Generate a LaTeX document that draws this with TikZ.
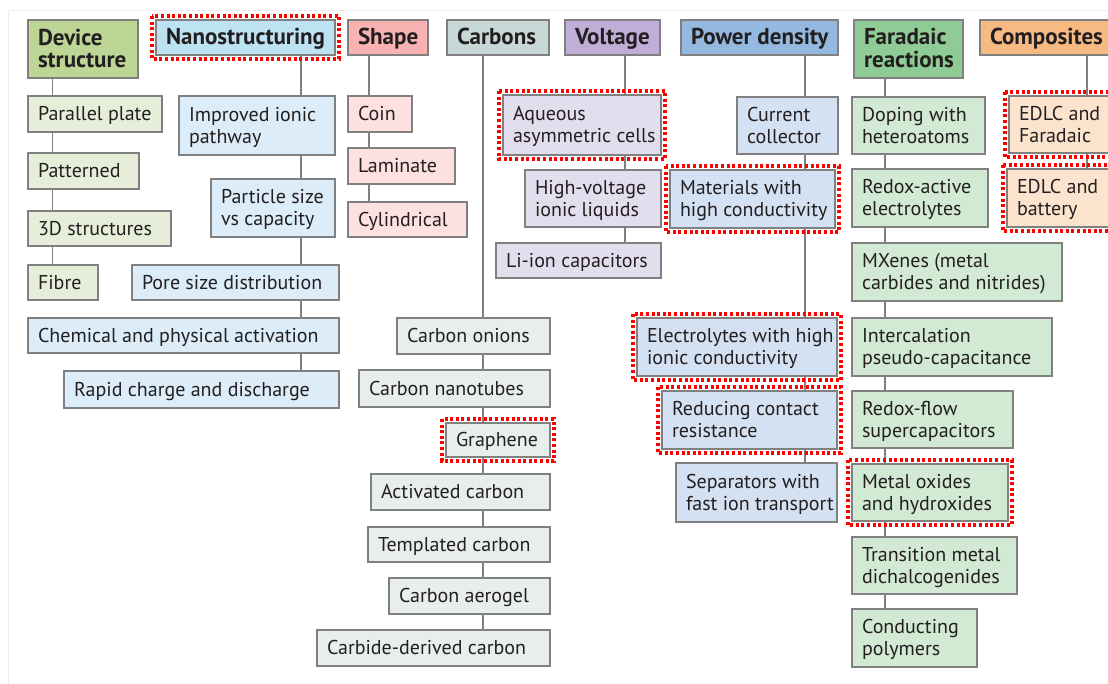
\documentclass[tikz,border=0pt]{standalone}
\usepackage{fontspec}
\setmainfont{PT Sans}
\definecolor{bord}{RGB}{128,128,128}
\definecolor{txt}{RGB}{35,31,32}
\definecolor{devD}{RGB}{189,214,150}\definecolor{devL}{RGB}{230,238,217}
\definecolor{nanoD}{RGB}{189,227,243}\definecolor{nanoL}{RGB}{220,237,249}
\definecolor{shapeD}{RGB}{248,178,177}\definecolor{shapeL}{RGB}{252,225,224}
\definecolor{carbD}{RGB}{199,216,214}\definecolor{carbL}{RGB}{232,238,237}
\definecolor{voltD}{RGB}{192,173,216}\definecolor{voltL}{RGB}{227,222,238}
\definecolor{powD}{RGB}{148,185,225}\definecolor{powL}{RGB}{212,225,242}
\definecolor{farD}{RGB}{143,203,148}\definecolor{farL}{RGB}{210,234,212}
\definecolor{compD}{RGB}{246,186,130}\definecolor{compL}{RGB}{251,227,206}
\definecolor{hlred}{RGB}{255,0,0}
\tikzset{
  box/.style={draw=bord, line width=1.2pt, inner xsep=10pt, inner ysep=1pt, outer sep=0pt,
    anchor=north west, text=txt, font=\fontsize{20}{21.8}\selectfont},
  head/.style={box, font=\fontsize{23}{21.8}\selectfont\bfseries},
  conn/.style={draw=bord, line width=1.2pt},
  hl/.style={draw=hlred, line width=3.2pt, dash pattern=on 3pt off 2.6pt},
  frameline/.style={draw=black!7, line width=0.8pt}
}
% name, x1, y1, x2, y2, style, text
\newcommand\bx[7]{%
  \pgfmathsetmacro\bxw{#4-#2}\pgfmathsetmacro\bxh{#5-#3}\pgfmathsetmacro\bxt{#4-#2-20}%
  \node[#6, minimum width=\bxw pt, minimum height=\bxh pt] (#1) at (#2,#3)
    {\makebox[\bxt pt][l]{\raisebox{-2.5pt}[\height][\depth]{\begin{tabular}{@{}l@{}}#7\end{tabular}}}};}
\newcommand\hlbox[1]{\draw[hl] ([shift={(-4,-4)}]#1.north west) rectangle ([shift={(4,4)}]#1.south east);}
\begin{document}
\begin{tikzpicture}[x=1pt,y=-1pt]
\useasboundingbox[fill=white] (0,0) rectangle (1108,684);
\clip (0,0) rectangle (1108,684);
\draw[frameline] (8,684) -- (8,10) -- (1108,10);
% headers
\bx{dev}{28}{20}{138}{78}{head,fill=devD}{Device\\structure}
\bx{nano}{156}{20}{335}{55}{head,fill=nanoD}{Nanostructuring}
\bx{shape}{348}{20}{428}{55}{head,fill=shapeD}{Shape}
\bx{carb}{447}{20}{549}{55}{head,fill=carbD}{Carbons}
\bx{volt}{565}{20}{660}{55}{head,fill=voltD}{Voltage}
\bx{pow}{681}{20}{838}{55}{head,fill=powD}{Power density}
\bx{far}{854}{20}{963}{78}{head,fill=farD}{Faradaic\\reactions}
\bx{comp}{980}{20}{1125}{55}{head,fill=compD}{Composites}
% device structure
\bx{pp}{28}{96}{162}{132}{box,fill=devL}{Parallel plate}
\bx{pat}{28}{153}{139}{189}{box,fill=devL}{Patterned}
\bx{d3}{28}{211}{171}{246}{box,fill=devL}{3D structures}
\bx{fib}{28}{265}{98}{300}{box,fill=devL}{Fibre}
% nanostructuring
\bx{ion}{179}{96}{335}{155}{box,fill=nanoL}{Improved ionic\\pathway}
\bx{part}{211}{179}{335}{237}{box,fill=nanoL}{Particle size\\vs capacity}
\bx{pore}{132}{265}{339}{300}{box,fill=nanoL}{Pore size distribution}
\bx{chem}{28}{318}{339}{353}{box,fill=nanoL}{Chemical and physical activation}
\bx{rapid}{64}{371}{339}{408}{box,fill=nanoL}{Rapid charge and discharge}
% shape
\bx{coin}{348}{96}{412}{132}{box,fill=shapeL}{Coin}
\bx{lam}{348}{148}{455}{184}{box,fill=shapeL}{Laminate}
\bx{cyl}{348}{202}{467}{237}{box,fill=shapeL}{Cylindrical}
% carbons
\bx{onion}{397}{318}{550}{354}{box,fill=carbL}{Carbon onions}
\bx{tube}{359}{370}{550}{407}{box,fill=carbL}{Carbon nanotubes}
\bx{graph}{446}{423}{550}{457}{box,fill=carbL}{Graphene}
\bx{act}{371}{474}{550}{510}{box,fill=carbL}{Activated carbon}
\bx{templ}{368}{527}{550}{562}{box,fill=carbL}{Templated carbon}
\bx{aero}{389}{578}{550}{614}{box,fill=carbL}{Carbon aerogel}
\bx{cdc}{317}{630}{550}{666}{box,fill=carbL}{Carbide-derived carbon}
% voltage
\bx{aq}{503}{95}{661}{155}{box,fill=voltL}{Aqueous\\asymmetric cells}
\bx{hv}{525}{170}{661}{227}{box,fill=voltL}{High-voltage\\ionic liquids}
\bx{li}{496}{243}{661}{278}{box,fill=voltL}{Li-ion capacitors}
% power density
\bx{cc}{737}{97}{838}{154}{box,fill=powL}{Current\\collector}
\bx{mat}{670}{170}{835}{228}{box,fill=powL}{Materials with\\high conductivity}
\bx{elec}{637}{318}{837}{376}{box,fill=powL}{Electrolytes with high\\ionic conductivity}
\bx{red}{662}{391}{837}{449}{box,fill=powL}{Reducing contact\\resistance}
\bx{sep}{676}{463}{837}{522}{box,fill=powL}{Separators with\\fast ion transport}
% faradaic
\bx{dop}{852}{97}{985}{154}{box,fill=farL}{Doping with\\heteroatoms}
\bx{rac}{852}{169}{988}{227}{box,fill=farL}{Redox-active\\electrolytes}
\bx{mx}{852}{243}{1062}{301}{box,fill=farL}{MXenes (metal\\carbides and nitrides)}
\bx{inter}{852}{318}{1052}{376}{box,fill=farL}{Intercalation\\pseudo-capacitance}
\bx{rflow}{852}{391}{1013}{448}{box,fill=farL}{Redox-flow\\supercapacitors}
\bx{mo}{852}{464}{1008}{521}{box,fill=farL}{Metal oxides\\and hydroxides}
\bx{tmd}{852}{537}{1017}{594}{box,fill=farL}{Transition metal\\dichalcogenides}
\bx{cp}{852}{609}{977}{667}{box,fill=farL}{Conducting\\polymers}
% composites
\bx{ef}{1009}{96}{1125}{153}{box,fill=compL}{EDLC and\\Faradaic}
\bx{eb}{1007}{169}{1125}{227}{box,fill=compL}{EDLC and\\battery}
% connector columns
\coordinate (xDev) at (52.5,0);
\coordinate (xNano) at (301,0);
\coordinate (xShape) at (369,0);
\coordinate (xCarb) at (483,0);
\coordinate (xVolt) at (625,0);
\coordinate (xPow) at (805,0);
\coordinate (xFar) at (885,0);
\coordinate (xComp) at (1087,0);
\foreach \a/\b in {dev/pp,pp/pat,pat/d3,d3/fib}
  \draw[conn] (\a.south -| xDev) -- (\b.north -| xDev);
\foreach \a/\b in {nano/ion,ion/part,part/pore,pore/chem,chem/rapid}
  \draw[conn] (\a.south -| xNano) -- (\b.north -| xNano);
\foreach \a/\b in {shape/coin,coin/lam,lam/cyl}
  \draw[conn] (\a.south -| xShape) -- (\b.north -| xShape);
\foreach \a/\b in {carb/onion,onion/tube,tube/graph,graph/act,act/templ,templ/aero,aero/cdc}
  \draw[conn] (\a.south -| xCarb) -- (\b.north -| xCarb);
\foreach \a/\b in {volt/aq,aq/hv,hv/li}
  \draw[conn] (\a.south -| xVolt) -- (\b.north -| xVolt);
\foreach \a/\b in {pow/cc,cc/mat,mat/elec,elec/red,red/sep}
  \draw[conn] (\a.south -| xPow) -- (\b.north -| xPow);
\foreach \a/\b in {far/dop,dop/rac,rac/mx,mx/inter,inter/rflow,rflow/mo,mo/tmd,tmd/cp}
  \draw[conn] (\a.south -| xFar) -- (\b.north -| xFar);
\foreach \a/\b in {comp/ef,ef/eb}
  \draw[conn] (\a.south -| xComp) -- (\b.north -| xComp);
% highlights
\hlbox{nano}\hlbox{aq}\hlbox{mat}\hlbox{elec}\hlbox{red}\hlbox{graph}\hlbox{mo}\hlbox{ef}\hlbox{eb}
\end{tikzpicture}
\end{document}
